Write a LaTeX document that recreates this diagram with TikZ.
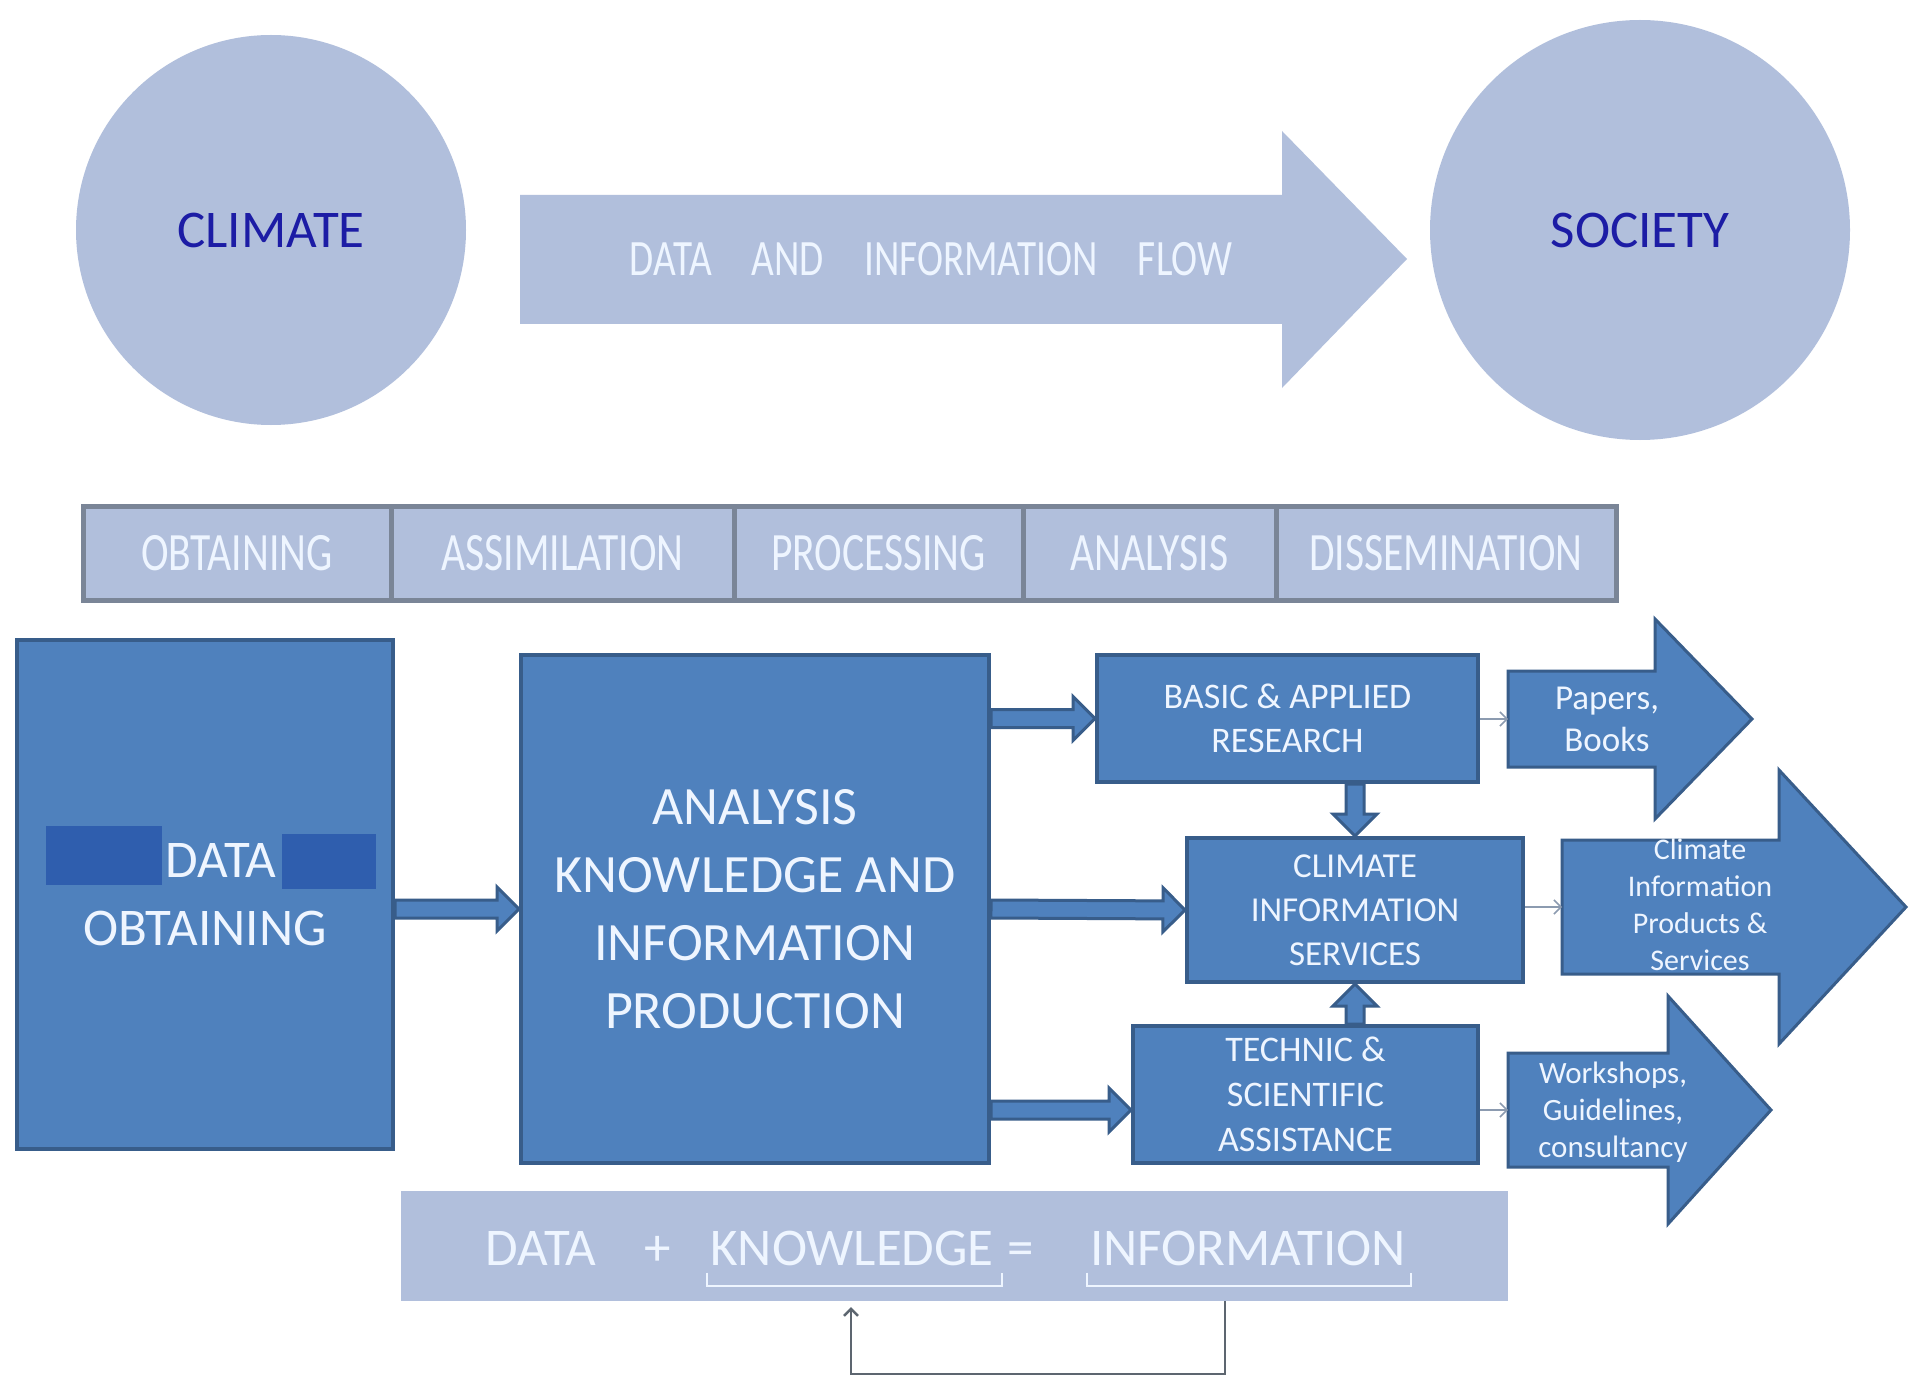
\documentclass[tikz,border=0pt]{standalone}
\usepackage{fontspec}
\setmainfont{Carlito}
\newfontfamily\narrowfont[FakeStretch=0.77]{Carlito}
\usetikzlibrary{calc,arrows.meta}

\definecolor{lightfill}{HTML}{B1BFDC}
\definecolor{darktext}{RGB}{28,28,165}
\definecolor{paletext}{HTML}{EEF5FF}
\definecolor{boxfill}{HTML}{4F81BD}
\definecolor{boxline}{HTML}{385D8A}
\definecolor{barline}{HTML}{7A8597}
\definecolor{redact}{HTML}{2F5EAE}
\definecolor{thingray}{HTML}{8C9BB0}
\definecolor{loopgray}{HTML}{5D6670}

\tikzset{
  bigcircle/.style={circle, fill=lightfill, text=darktext, inner sep=0pt, font=\fontsize{53}{60}\selectfont},
  flowtext/.style={text=paletext, inner sep=0pt, font=\narrowfont\fontsize{51}{60}\selectfont},
  stage/.style={draw=barline, line width=5pt, fill=lightfill, text=paletext, minimum height=94pt, inner sep=0pt, font=\narrowfont\fontsize{54}{60}\selectfont},
  darkbox/.style={draw=boxline, line width=4pt, fill=boxfill, text=paletext, align=center, inner sep=0pt},
  flowarrow/.style={draw=boxline, line width=3pt, fill=boxfill, line join=miter},
  outtext/.style={text=paletext, align=center, inner sep=0pt},
  thinarrow/.style={->, draw=thingray, line width=1.5pt},
  eqtext/.style={text=paletext, inner sep=0pt, anchor=base, font=\fontsize{53}{60}\selectfont},
  bracket/.style={draw=paletext, line width=2pt},
  feedback/.style={draw=loopgray, line width=2.5pt},
}

% block arrow from #1 to #2
\newcommand\blockarrow[2]{%
  \coordinate (headbase) at ($(#2)!22pt!(#1)$);
  \filldraw[flowarrow] ($(#1)!9pt!90:(#2)$) -- ($(headbase)!9pt!90:(#2)$)
    -- ($(headbase)!22pt!90:(#2)$) -- (#2)
    -- ($(headbase)!22pt!-90:(#2)$) -- ($(headbase)!9pt!-90:(#2)$)
    -- ($(#1)!9pt!-90:(#2)$) -- cycle;}

\begin{document}
\begin{tikzpicture}[x=1pt, y=-1pt, >={Straight Barb[length=7pt,width=14pt]}]
\fill[white] (0,0) rectangle (1915,1380);
\useasboundingbox (0,0) rectangle (1915,1380);

% climate -> society
\node[bigcircle, minimum size=390pt] (climate) at (271,230) {CLIMATE};
\node[bigcircle, minimum size=420pt] (society) at (1640,230) {SOCIETY};
\fill[lightfill] (520,195) -- (1282,195) -- (1282,131) -- (1407,259) -- (1282,388) -- (1282,324) -- (520,324) -- cycle;
\node[flowtext] (flow) at (931,259) {DATA\hspace{40pt}AND\hspace{40pt}INFORMATION\hspace{40pt}FLOW};

% stages
\node[stage, minimum width=308pt] (obtaining) at (237,553) {OBTAINING};
\node[stage, minimum width=343pt] (assimilation) at (562.5,553) {ASSIMILATION};
\node[stage, minimum width=289pt] (processing) at (878.5,553) {PROCESSING};
\node[stage, minimum width=253pt] (analysis) at (1149.5,553) {ANALYSIS};
\node[stage, minimum width=340pt] (dissemination) at (1446,553) {DISSEMINATION};

% boxes
\node[darkbox, minimum width=376pt, minimum height=509pt, font=\fontsize{53}{68}\selectfont] (obtainbox) at (205,894.5) {\hspace*{32pt}DATA\\OBTAINING};
\fill[redact] (46,826) rectangle (162,885);
\fill[redact] (282,834) rectangle (376,889);
\node[darkbox, minimum width=468pt, minimum height=508pt, font=\fontsize{54}{68}\selectfont] (prodbox) at (755,909) {ANALYSIS\\KNOWLEDGE AND\\INFORMATION\\PRODUCTION};
\node[darkbox, minimum width=381pt, minimum height=127pt, font=\fontsize{36}{44}\selectfont] (research) at (1287.5,718.5) {BASIC \& APPLIED\\RESEARCH};
\node[darkbox, minimum width=336pt, minimum height=144pt, font=\fontsize{35}{44}\selectfont] (services) at (1355,910) {CLIMATE\\INFORMATION\\SERVICES};
\node[darkbox, minimum width=345pt, minimum height=137pt, font=\fontsize{36}{45}\selectfont] (assist) at (1305.5,1094.5) {TECHNIC \&\\SCIENTIFIC\\ASSISTANCE};

\coordinate (obtainout) at (obtainbox.east |- prodbox.west);
\coordinate (resout) at (prodbox.east |- research.west);
\coordinate (assistin) at ([yshift=55pt]assist.south west);
\coordinate (assistout) at (prodbox.east |- assistin);
\coordinate (downstart) at (research.south -| services.north);
\coordinate (upstart) at (assist.north -| services.south);
\blockarrow{obtainout}{prodbox.west}
\blockarrow{resout}{research.west}
\blockarrow{prodbox.east}{services.west}
\blockarrow{assistout}{assistin}
\blockarrow{downstart}{services.north}
\blockarrow{upstart}{services.south}

% products
\coordinate (papersin) at (1508,719);
\coordinate (cipsin) at (1562,907);
\coordinate (wsin) at (1508,1110);
\filldraw[flowarrow] (papersin) ++(0,-48) -- ++(147,0) -- ++(0,-52) -- ++(97,100) -- ++(-97,100) -- ++(0,-52) -- ++(-147,0) -- cycle;
\filldraw[flowarrow] (cipsin) ++(0,-67) -- ++(217,0) -- ++(0,-70) -- ++(127,137) -- ++(-127,137) -- ++(0,-70) -- ++(-217,0) -- cycle;
\filldraw[flowarrow] (wsin) ++(0,-57) -- ++(160,0) -- ++(0,-57) -- ++(103,114) -- ++(-103,114) -- ++(0,-57) -- ++(-160,0) -- cycle;
\node[outtext, font=\fontsize{35}{42}\selectfont] (papers) at (1607,719) {Papers,\\Books};
\node[outtext, font=\fontsize{30}{37}\selectfont] (cips) at (1700,905) {Climate\\Information\\Products \&\\Services};
\node[outtext, font=\fontsize{31}{37}\selectfont] (workshops) at (1613,1112) {Workshops,\\Guidelines,\\consultancy};
\draw[thinarrow] (research.east |- papersin) -- (papersin);
\draw[thinarrow] (services.east |- cipsin) -- (cipsin);
\draw[thinarrow] (assist.east |- wsin) -- (wsin);

% data + knowledge = information
\node[fill=lightfill, minimum width=1107pt, minimum height=110pt, inner sep=0pt] (eqbar) at (954.5,1246) {};
\node[eqtext] (eqdata) at (541,1265) {DATA};
\node[eqtext] (eqplus) at (658,1265) {+};
\node[eqtext] (eqknow) at (852,1265) {KNOWLEDGE};
\node[eqtext] (eqequals) at (1021,1265) {=};
\node[eqtext] (eqinfo) at (1248,1265) {INFORMATION};
\draw[bracket] ([shift={(-3,7)}]eqknow.south west) |- ([shift={(8,20)}]eqknow.south east) -- ++(0,-13);
\draw[bracket] ([shift={(-3,7)}]eqinfo.south west) |- ([shift={(5,20)}]eqinfo.south east) -- ++(0,-13);
\coordinate (fbstart) at (1225,1301);
\coordinate (fbend) at (851,1307);
\draw[feedback, ->] (fbstart) -- ++(0,73) -| (fbend);
\end{tikzpicture}
\end{document}
